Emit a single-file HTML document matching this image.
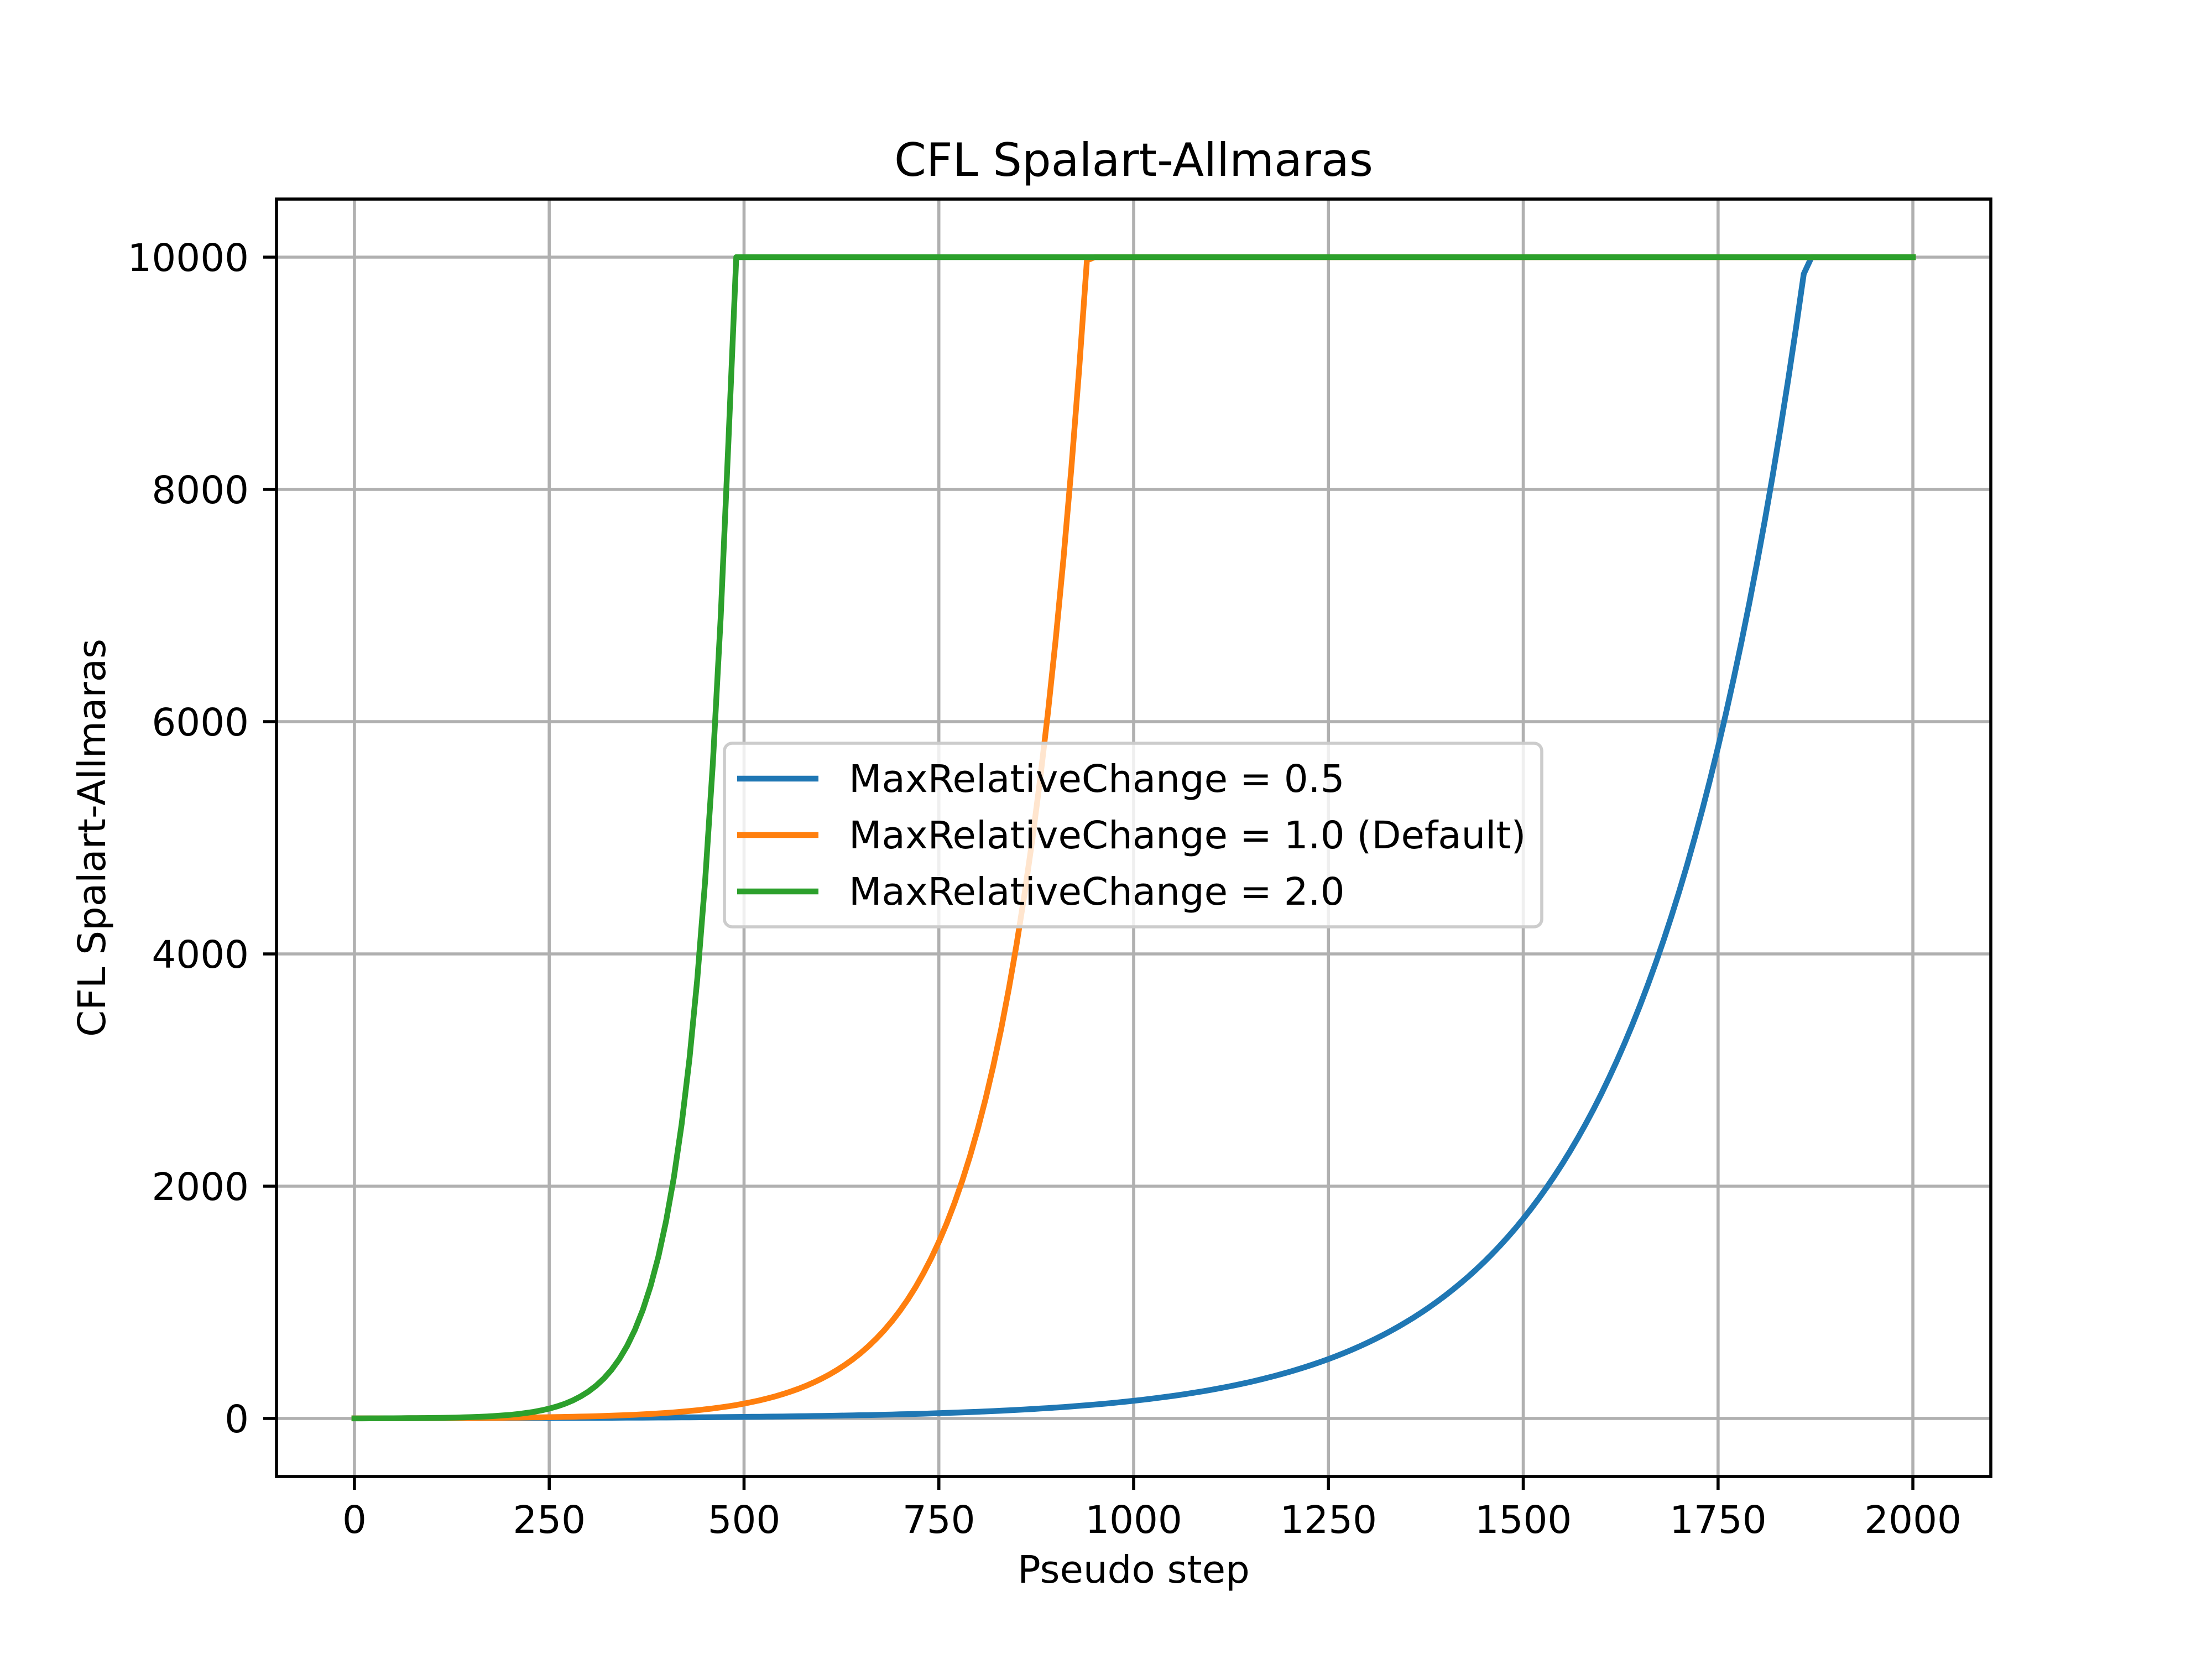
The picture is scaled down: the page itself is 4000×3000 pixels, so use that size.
<!DOCTYPE html>
<html><head><meta charset="utf-8"><style>
html,body{margin:0;padding:0;background:#fff}
svg{display:block}
text{font-family:"DejaVu Sans","Liberation Sans",sans-serif;fill:#000}
</style></head><body>
<svg id="s" width="4000" height="3000" viewBox="0 0 4000 3000" xmlns="http://www.w3.org/2000/svg">
<rect width="4000" height="3000" fill="#fff"/>
<g id="grid" stroke="#b0b0b0" stroke-width="5.6"></g>
<g id="lines" fill="none" stroke-width="10.4" stroke-linejoin="round" stroke-linecap="square"></g>
<rect x="500" y="360" width="3100" height="2310" fill="none" stroke="#000" stroke-width="5.6"/>
<g id="ticks" stroke="#000" stroke-width="5.6"></g>
<g id="labels" font-size="69"></g>
<text x="2050" y="318" font-size="83" text-anchor="middle">CFL Spalart-Allmaras</text>
<text x="2050" y="2862" font-size="69" text-anchor="middle">Pseudo step</text>
<text transform="translate(190,1515) rotate(-90)" font-size="69" text-anchor="middle">CFL Spalart-Allmaras</text>
<g>
<rect x="1310" y="1344" width="1478" height="332" rx="14" fill="#fff" fill-opacity="0.8" stroke="#cccccc" stroke-width="5.6"/>
<line x1="1333" y1="1408" x2="1480" y2="1408" stroke="#1f77b4" stroke-width="10.4"/>
<line x1="1333" y1="1510" x2="1480" y2="1510" stroke="#ff7f0e" stroke-width="10.4"/>
<line x1="1333" y1="1612" x2="1480" y2="1612" stroke="#2ca02c" stroke-width="10.4"/>
<text x="1535" y="1432" font-size="69">MaxRelativeChange = 0.5</text>
<text x="1535" y="1534" font-size="69">MaxRelativeChange = 1.0 (Default)</text>
<text x="1535" y="1636" font-size="69">MaxRelativeChange = 2.0</text>
</g>
</svg>
<script>
var NS="http://www.w3.org/2000/svg";
function X(x){return 500+(x+100)*3100/2200;}
function Y(y){return 2670-(y+500)*0.21;}
function el(p,t,a,txt){var e=document.createElementNS(NS,t);for(var k in a)e.setAttribute(k,a[k]);if(txt!==undefined)e.textContent=txt;document.getElementById(p).appendChild(e);return e;}
for(var v=0;v<=2000;v+=250){var x=X(v);
 el("grid","line",{x1:x,y1:360,x2:x,y2:2670});
 el("ticks","line",{x1:x,y1:2670,x2:x,y2:2694});
 el("labels","text",{x:x,y:2772,"text-anchor":"middle"},String(v));}
for(var v=0;v<=10000;v+=2000){var y=Y(v);
 el("grid","line",{x1:500,y1:y,x2:3600,y2:y});
 el("ticks","line",{x1:476,y1:y,x2:500,y2:y});
 el("labels","text",{x:450,y:y+25,"text-anchor":"end"},String(v));}
function series(f,color){var pts=[];for(var x=0;x<=2000;x+=10){pts.push(X(x).toFixed(1)+","+Y(f(x)).toFixed(1));}
 el("lines","polyline",{points:pts.join(" "),stroke:color});}
series(function(x){return Math.min(10000,10000*Math.exp(0.00485*(x-1863)));},"#1f77b4");
series(function(x){return Math.min(10000,1520*Math.exp(0.0099*(x-750)));},"#ff7f0e");
series(function(x){return Math.min(10000,1700*Math.exp(0.02*(x-400)));},"#2ca02c");
</script>
</body></html>
